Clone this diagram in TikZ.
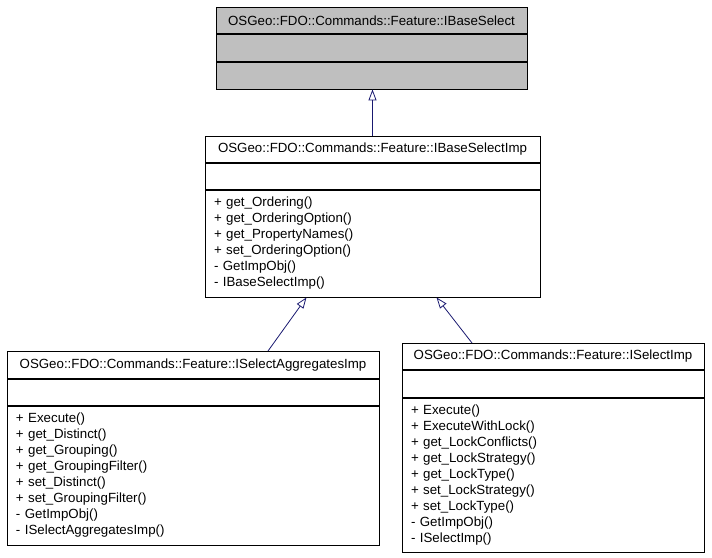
\documentclass[tikz,border=0pt]{standalone}
\usepackage{fontspec}
\setmainfont{Liberation Sans}
\usetikzlibrary{positioning,arrows.meta}

\definecolor{classgray}{HTML}{BFBFBF}
\definecolor{edgeblue}{HTML}{191970}

\begin{document}
\begin{tikzpicture}[
    x=1pt, y=1pt,
    node distance=0pt,
    every node/.style={font=\fontsize{13.3}{16}\selectfont, inner sep=0pt},
    part/.style={rectangle, draw, line width=0.8pt, minimum height=26pt},
    opsbox/.style={rectangle, draw, line width=0.8pt, align=left, inner xsep=9pt},
    inherit/.style={draw=edgeblue, line width=0.8pt, -{Triangle[open, length=11pt, width=8pt]}}
]
\useasboundingbox (0,0) rectangle (712,-557);

% Base interface
\node[part, fill=classgray, minimum width=311pt, anchor=north] (basetitle) at (371.5,-7) {OSGeo::FDO::Commands::Feature::IBaseSelect};
\node[part, fill=classgray, minimum width=311pt, minimum height=27pt, below=of basetitle] (baseattr) {};
\node[part, fill=classgray, minimum width=311pt, minimum height=27pt, below=of baseattr] (baseops) {};

% Base implementation
\node[part, minimum width=335pt, anchor=north] (imptitle) at (372.5,-136) {OSGeo::FDO::Commands::Feature::IBaseSelectImp};
\node[part, minimum width=335pt, below=of imptitle] (impattr) {};
\node[opsbox, text width=317pt, minimum height=107pt, below=of impattr] (impops) {+ get\_Ordering()\\
+ get\_OrderingOption()\\
+ get\_PropertyNames()\\
+ set\_OrderingOption()\\
- GetImpObj()\\
- IBaseSelectImp()};

% Aggregates implementation
\node[part, minimum width=372pt, minimum height=27pt, anchor=north] (aggtitle) at (193,-351) {OSGeo::FDO::Commands::Feature::ISelectAggregatesImp};
\node[part, minimum width=372pt, below=of aggtitle] (aggattr) {};
\node[opsbox, text width=354pt, minimum height=139pt, below=of aggattr] (aggops) {+ Execute()\\
+ get\_Distinct()\\
+ get\_Grouping()\\
+ get\_GroupingFilter()\\
+ set\_Distinct()\\
+ set\_GroupingFilter()\\
- GetImpObj()\\
- ISelectAggregatesImp()};

% Select implementation
\node[part, minimum width=302pt, anchor=north] (seltitle) at (553,-343) {OSGeo::FDO::Commands::Feature::ISelectImp};
\node[part, minimum width=302pt, minimum height=27pt, below=of seltitle] (selattr) {};
\node[opsbox, text width=284pt, minimum height=154pt, below=of selattr] (selops) {+ Execute()\\
+ ExecuteWithLock()\\
+ get\_LockConflicts()\\
+ get\_LockStrategy()\\
+ get\_LockType()\\
+ set\_LockStrategy()\\
+ set\_LockType()\\
- GetImpObj()\\
- ISelectImp()};

% Inheritance
\draw[inherit] (imptitle.north) -- (imptitle.north |- baseops.south);
\draw[inherit] ([xshift=75pt]aggtitle.north) -- ([xshift=-66pt]impops.south);
\draw[inherit] ([xshift=-81pt]seltitle.north) -- ([xshift=64pt]impops.south);

\end{tikzpicture}
\end{document}
